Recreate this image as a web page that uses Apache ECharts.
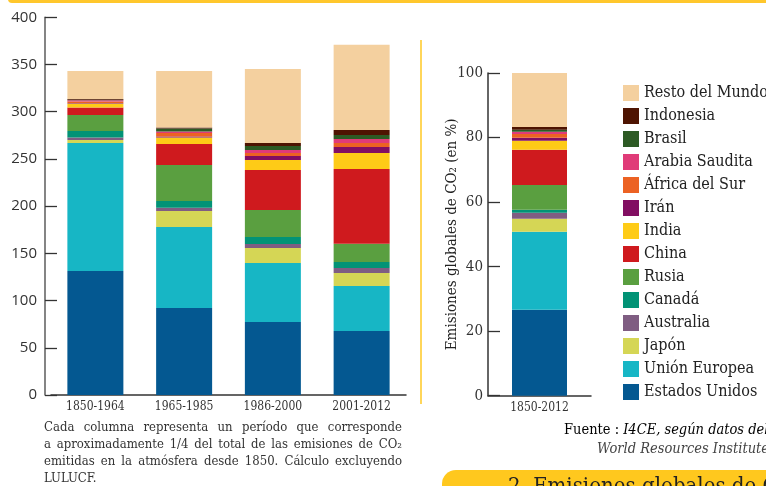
<!DOCTYPE html>
<html><head><meta charset="utf-8">
<script src="https://cdn.jsdelivr.net/npm/echarts@6/dist/echarts.min.js"></script>
<style>html,body{margin:0;padding:0;background:#fff;overflow:hidden}#c{width:766px;height:486px}</style>
</head><body><div id="c"></div>
<script>
// ---- DATA ----
const categories = ['1850-1964', '1965-1985', '1986-2000', '2001-2012'];
const totalCategory = ['1850-2012'];
const seriesNames = ['Estados Unidos', 'Unión Europea', 'Japón', 'Australia', 'Canadá', 'Rusia', 'China', 'India', 'Irán', 'África del Sur', 'Arabia Saudita', 'Brasil', 'Indonesia', 'Resto del Mundo'];
const usValues = [131.4, 92.2, 77.3, 67.8];
const ueValues = [135.6, 85.8, 62.5, 47.7];
const japonValues = [3.1, 16.9, 15.9, 13.7];
const australiaValues = [2.5, 3.5, 4.3, 5.3];
const canadaValues = [7.1, 7.1, 7.4, 6.4];
const rusiaValues = [16.9, 38.1, 28.6, 19.4];
const chinaValues = [7.8, 22.3, 42.3, 79.1];
const indiaValues = [4.2, 6.7, 10.6, 17.0];
const iranValues = [0.7, 1.1, 4.3, 6.3];
const africaValues = [1.4, 3.9, 3.2, 4.3];
const arabiaValues = [1.5, 1.4, 3.1, 4.2];
const brasilValues = [0.4, 3.2, 4.3, 4.2];
const indonesiaValues = [1.0, 1.0, 3.2, 5.3];
const restoValues = [29.6, 60.0, 78.3, 90.1];
// shares 1850-2012 (%) in seriesNames order
const shareValues = [26.6, 24.2, 4.0, 1.9, 0.9, 7.7, 10.9, 2.8, 0.9, 1.2, 0.7, 0.6, 0.9, 16.7];
const leftTicks = [0, 50, 100, 150, 200, 250, 300, 350, 400];
const rightTicks = [0, 20, 40, 60, 80, 100];

// ---- STYLE ----
const colors = ['#045891', '#17B6C5', '#D5D655', '#7F5D82', '#029376', '#5A9F40', '#CF1A1E', '#FECB17', '#820E62', '#EC6223', '#E03B78', '#2D5A24', '#4E1402', '#F4D09F'];
const leftData = [usValues, ueValues, japonValues, australiaValues, canadaValues, rusiaValues, chinaValues, indiaValues, iranValues, africaValues, arabiaValues, brasilValues, indonesiaValues, restoValues];
const serif = "'DejaVu Serif', serif";
const condSerif = "'DejaVu Serif Condensed', 'DejaVu Serif', serif";
const sans = "'Open Sans', sans-serif";

const chart = echarts.init(document.getElementById('c'), null, {renderer: 'canvas'});

// justified caption built from measured word widths
function justifiedLines(lines, x, yStart, lineH, width, font, size) {
  const ctx = document.createElement('canvas').getContext('2d');
  ctx.font = size + 'px ' + font;
  const els = [];
  lines.forEach((ln, li) => {
    const y = yStart + li * lineH;
    const words = ln.text.split(' ');
    if (!ln.justify || words.length < 2) {
      els.push({type: 'text', x: x, y: y, style: {text: ln.text, font: size + 'px ' + font, fill: '#333', textVerticalAlign: 'top'}});
      return;
    }
    const ws = words.map(w => ctx.measureText(w).width);
    const total = ws.reduce((a, b) => a + b, 0);
    const gap = (width - total) / (words.length - 1);
    let cx = x;
    words.forEach((w, i) => {
      els.push({type: 'text', x: cx, y: y, style: {text: w, font: size + 'px ' + font, fill: '#333', textVerticalAlign: 'top'}});
      cx += ws[i] + gap;
    });
  });
  return els;
}

const captionLines = [
  {text: 'Cada columna representa un período que corresponde', justify: true},
  {text: 'a aproximadamente 1/4 del total de las emisiones de CO₂', justify: true},
  {text: 'emitidas en la atmósfera desde 1850. Cálculo excluyendo', justify: true},
  {text: 'LULUCF.', justify: false}
];

const series = [];
seriesNames.forEach((n, i) => {
  series.push({name: n, type: 'bar', stack: 'periodos', xAxisIndex: 0, yAxisIndex: 0,
    data: leftData[i], barWidth: 56, itemStyle: {color: colors[i]}, emphasis: {disabled: true}});
});
seriesNames.forEach((n, i) => {
  series.push({name: n, type: 'bar', stack: 'total', xAxisIndex: 1, yAxisIndex: 1,
    data: [shareValues[i]], barWidth: 55, itemStyle: {color: colors[i]}, emphasis: {disabled: true}});
});

const option = {
  animation: false,
  backgroundColor: '#fff',
  grid: [
    {left: 51, top: 17.3, width: 355, height: 377.7},
    {left: 488, top: 73, width: 103, height: 322.7}
  ],
  legend: {
    orient: 'vertical', left: 618, top: 80,
    itemWidth: 16, itemHeight: 16, itemGap: 7, icon: 'rect',
    data: seriesNames.slice().reverse(),
    textStyle: {fontFamily: condSerif, fontSize: 16, color: '#222'},
    selectedMode: false
  },
  xAxis: [
    {type: 'category', gridIndex: 0, data: categories,
      axisLine: {lineStyle: {color: '#333', width: 1.5}},
      axisTick: {inside: true, length: 9, lineStyle: {color: '#333', width: 1.2}},
      axisLabel: {fontFamily: condSerif, fontSize: 12, color: '#333', margin: 6}},
    {type: 'category', gridIndex: 1, data: totalCategory,
      axisLine: {lineStyle: {color: '#333', width: 1.5}},
      axisTick: {inside: true, length: 9, lineStyle: {color: '#333', width: 1.2}},
      axisLabel: {fontFamily: condSerif, fontSize: 12, color: '#333', margin: 6}}
  ],
  yAxis: [
    {type: 'value', gridIndex: 0, min: leftTicks[0], max: leftTicks[leftTicks.length - 1], interval: 50, offset: 6,
      axisLine: {show: true, lineStyle: {color: '#666', width: 1.6}},
      axisTick: {show: true, inside: true, length: 12, lineStyle: {color: '#333', width: 1.3}},
      splitLine: {show: false},
      axisLabel: {fontFamily: sans, fontSize: 15, color: '#333', margin: 8}},
    {type: 'value', gridIndex: 1, min: rightTicks[0], max: rightTicks[rightTicks.length - 1], interval: 20,
      name: 'Emisiones globales de CO₂ (en %)', nameLocation: 'middle', nameGap: 28, nameRotate: 90,
      nameMoveOverlap: false,
      nameTextStyle: {fontFamily: condSerif, fontSize: 15, color: '#222'},
      axisLine: {show: true, lineStyle: {color: '#333', width: 1.5}},
      axisTick: {show: true, inside: true, length: 12, lineStyle: {color: '#333', width: 1.3}},
      splitLine: {show: false},
      axisLabel: {fontFamily: condSerif, fontSize: 15, color: '#333', margin: 5}}
  ],
  series: series,
  graphic: [
    {type: 'rect', shape: {x: 8, y: -6, width: 800, height: 9, r: 4}, style: {fill: '#FFC72C'}},
    {type: 'rect', shape: {x: 420, y: 40, width: 2, height: 364}, style: {fill: '#FFD65A'}},
    {type: 'rect', shape: {x: 442, y: 470, width: 360, height: 40, r: 14}, style: {fill: '#FFC81E'}},
    {type: 'text', x: 508, y: 476, style: {text: '2. Emisiones globales de CO₂', font: '22px ' + condSerif, fill: '#222', textVerticalAlign: 'top'}},
    {type: 'text', x: 564, y: 423, style: {
      text: '{n|Fuente : }{i|I4CE, según datos del}', textVerticalAlign: 'top',
      rich: {n: {fontFamily: condSerif, fontSize: 14.5, color: '#444'}, i: {fontFamily: condSerif, fontSize: 14.5, fontStyle: 'italic', color: '#444'}}}},
    {type: 'text', x: 597, y: 442, style: {text: 'World Resources Institute', font: 'italic 14.5px ' + condSerif, fill: '#444', textVerticalAlign: 'top'}}
  ].concat(justifiedLines(captionLines, 44, 421, 17, 358, condSerif, 13))
};
chart.setOption(option);
</script></body></html>
